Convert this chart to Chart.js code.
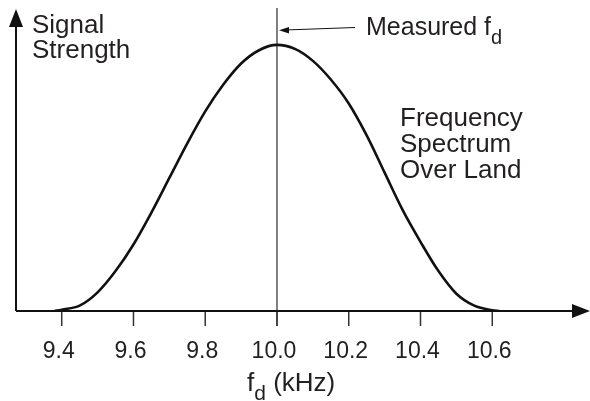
<!DOCTYPE html>
<html>
<head>
<meta charset="utf-8">
<script src="https://cdn.jsdelivr.net/npm/chart.js@4"></script>
<style>
  body { margin: 0; background: #fff; }
  #wrap { width: 590px; height: 401px; position: relative; }
</style>
</head>
<body>
<div id="wrap"><canvas id="chart"></canvas></div>
<script>
// values
const freq = [9.38, 9.40, 9.45, 9.50, 9.55, 9.60, 9.65, 9.70, 9.75, 9.80, 9.85, 9.90, 9.95,
  10.00, 10.05, 10.10, 10.15, 10.20, 10.25, 10.30, 10.35, 10.40, 10.45, 10.50, 10.55, 10.60, 10.62];
const strength = [0, 0.005, 0.02, 0.07, 0.15, 0.25, 0.37, 0.50, 0.63, 0.75, 0.85, 0.93, 0.98,
  1.00, 0.985, 0.94, 0.87, 0.78, 0.66, 0.52, 0.38, 0.26, 0.15, 0.065, 0.02, 0.003, 0];
const tickValues = [9.4, 9.6, 9.8, 10.0, 10.2, 10.4, 10.6];
const measuredFd = 10.0;
const yLabel = ['Signal', 'Strength'];
const curveLabel = ['Frequency', 'Spectrum', 'Over Land'];

const FONT = '"Liberation Sans", Arial, sans-serif';
const INK = '#231f20';

// axes, ticks and text drawn around the chart area
const decorations = {
  id: 'decorations',
  beforeDatasetsDraw(chart) {
    const ctx = chart.ctx;
    const x = chart.scales.x, y = chart.scales.y;
    const x0 = x.left, y0 = y.getPixelForValue(0);
    ctx.save();

    // vertical line at measured fd
    const xm = x.getPixelForValue(measuredFd);
    ctx.strokeStyle = '#555';
    ctx.lineWidth = 1.5;
    ctx.beginPath();
    ctx.moveTo(xm, y.top - 1);
    ctx.lineTo(xm, y0 + 15);
    ctx.stroke();

    // tick marks
    ctx.strokeStyle = '#333';
    ctx.lineWidth = 1.5;
    tickValues.forEach(v => {
      const px = x.getPixelForValue(v);
      ctx.beginPath();
      ctx.moveTo(px, y0);
      ctx.lineTo(px, y0 + 15);
      ctx.stroke();
    });

    // axes with arrows
    ctx.strokeStyle = '#111';
    ctx.fillStyle = '#111';
    ctx.lineWidth = 2;
    ctx.beginPath();
    ctx.moveTo(x0, y0);
    ctx.lineTo(x.right - 10, y0);
    ctx.moveTo(x0, y0);
    ctx.lineTo(x0, y.top + 10);
    ctx.stroke();
    ctx.beginPath();
    ctx.moveTo(x0, y.top);
    ctx.lineTo(x0 - 7, y.top + 18);
    ctx.lineTo(x0 + 7, y.top + 18);
    ctx.closePath();
    ctx.fill();
    ctx.beginPath();
    ctx.moveTo(x.right, y0);
    ctx.lineTo(x.right - 18, y0 - 7);
    ctx.lineTo(x.right - 18, y0 + 7);
    ctx.closePath();
    ctx.fill();

    // tick labels
    ctx.fillStyle = INK;
    ctx.font = '23px ' + FONT;
    ctx.textAlign = 'center';
    ctx.textBaseline = 'alphabetic';
    tickValues.forEach(v => {
      ctx.fillText(v.toFixed(1), x.getPixelForValue(v) - 3, y0 + 47);
    });

    // axis title: f_d (kHz)
    ctx.textAlign = 'left';
    let tx = 247;
    ctx.font = '26px ' + FONT;
    ctx.fillText('f', tx, 391);
    tx += ctx.measureText('f').width;
    ctx.font = '21px ' + FONT;
    ctx.fillText('d', tx, 400);
    tx += ctx.measureText('d').width;
    ctx.font = '26px ' + FONT;
    ctx.fillText(' (kHz)', tx, 391);

    // y label
    ctx.fillText(yLabel[0], 32, 33);
    ctx.fillText(yLabel[1], 32, 58);

    // curve label
    curveLabel.forEach((s, i) => ctx.fillText(s, 400, 126 + i * 26));

    // Measured fd with arrow
    tx = 366;
    ctx.font = '25px ' + FONT;
    ctx.fillText('Measured f', tx, 35);
    tx += ctx.measureText('Measured f').width;
    ctx.font = '20px ' + FONT;
    ctx.fillText('d', tx, 44);

    ctx.strokeStyle = '#111';
    ctx.fillStyle = '#111';
    ctx.lineWidth = 1;
    ctx.beginPath();
    ctx.moveTo(355, 27.5);
    ctx.lineTo(285, 30);
    ctx.stroke();
    ctx.beginPath();
    ctx.moveTo(279, 30.3);
    ctx.lineTo(289, 27);
    ctx.lineTo(289, 33.5);
    ctx.closePath();
    ctx.fill();

    ctx.restore();
  }
};

new Chart(document.getElementById('chart'), {
  type: 'line',
  data: {
    datasets: [{
      data: freq.map((f, i) => ({ x: f, y: strength[i] })),
      borderColor: '#111',
      borderWidth: 2.6,
      pointRadius: 0,
      cubicInterpolationMode: 'monotone',
      fill: false
    }]
  },
  options: {
    responsive: true,
    maintainAspectRatio: false,
    animation: false,
    layout: { padding: { left: 16, right: 0, top: 9, bottom: 90 } },
    plugins: { legend: { display: false }, tooltip: { enabled: false } },
    scales: {
      x: { type: 'linear', display: false, min: 9.2726, max: 10.8724 },
      y: { display: false, min: 0, max: 1.135 }
    }
  },
  plugins: [decorations]
});
</script>
</body>
</html>
